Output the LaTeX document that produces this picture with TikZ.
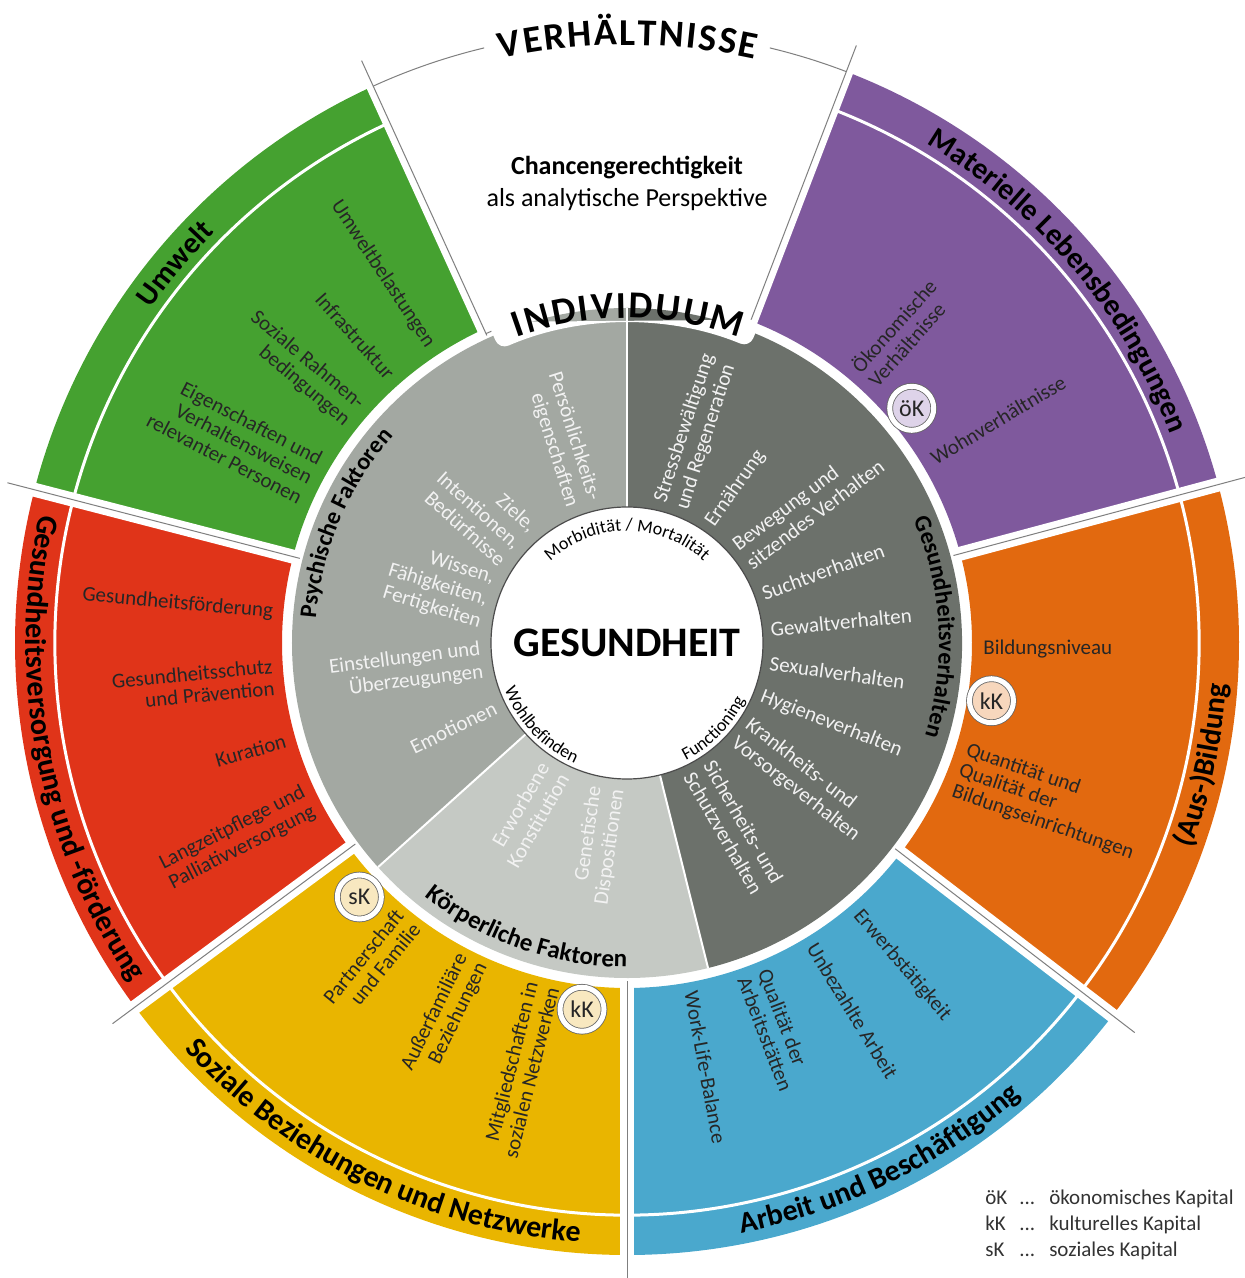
\documentclass[tikz,border=0pt]{standalone}
\usepackage{fontspec}
\setmainfont{Carlito}
\usepackage{tikz}
\usetikzlibrary{decorations.text}

\definecolor{umweltgreen}{HTML}{45A130}
\definecolor{lebenpurple}{HTML}{7F599D}
\definecolor{bildungorange}{HTML}{E2690F}
\definecolor{arbeitblue}{HTML}{4AA8CD}
\definecolor{sozialyellow}{HTML}{E9B500}
\definecolor{versorgungred}{HTML}{E03419}
\definecolor{psychgray}{HTML}{A3A8A2}
\definecolor{koerpergray}{HTML}{C5C9C4}
\definecolor{verhaltengray}{HTML}{6C716B}
\definecolor{ringtext}{HTML}{F2F2F2}
\definecolor{oekfill}{HTML}{DED3E9}
\definecolor{kkfill}{HTML}{F7D7BD}
\definecolor{skfill}{HTML}{F8E8C0}
\definecolor{dividergray}{HTML}{7F7F7F}
\newcommand{\spacedletter}[1]{\kern0.5pt#1\kern0.5pt}

\begin{document}
\begin{tikzpicture}[x=0.5pt, y=0.5pt]
    \tikzstyle{divider} = [draw, white, line width=7pt]
    \tikzstyle{divider_line} = [draw, dividergray, line width=0.5pt]
    \tikzstyle{band_line} = [draw, white, line width=1.5pt]
    \tikzstyle{ring_line} = [draw, white, line width=1pt]
    \tikzstyle{ring_item} = [text=ringtext, inner sep=0pt, font=\fontsize{10.5}{11.5}\selectfont]
    \tikzstyle{sector_item} = [text=black!85, inner sep=0pt, font=\fontsize{10.5}{11}\selectfont]
    \tikzstyle{badge} = [circle, draw=black!60, line width=0.4pt, double=white, double distance=2.5pt, minimum size=22pt, inner sep=0pt, text=black!85, font=\fontsize{12}{12}\selectfont]
    \tikzstyle{curved_label} = [decorate, decoration={text along path, text align=center}]

    \useasboundingbox (-627,-635) rectangle (617,643);

    \fill[umweltgreen] (114.5:345) arc (114.5:165.5:345) -- (165.5:612) arc (165.5:114.5:612) -- cycle;
    \fill[versorgungred] (165.5:345) arc (165.5:216.5:345) -- (216.5:612) arc (216.5:165.5:612) -- cycle;
    \fill[sozialyellow] (216.5:345) arc (216.5:270:345) -- (270:612) arc (270:216.5:612) -- cycle;
    \fill[arbeitblue] (270:345) arc (270:322.5:345) -- (322.5:612) arc (322.5:270:612) -- cycle;
    \fill[bildungorange] (322.5:345) arc (322.5:375:345) -- (375:612) arc (375:322.5:612) -- cycle;
    \fill[lebenpurple] (15:345) arc (15:69:345) -- (69:612) arc (69:15:612) -- cycle;
    \path[band_line] (69:572) arc (69:-245.5:572);

    \path[divider] (69:338) -- (69:640);
    \path[divider] (114.5:338) -- (114.5:640);
    \path[divider] (165.5:338) -- (165.5:640);
    \path[divider] (216.5:338) -- (216.5:640);
    \path[divider] (270:338) -- (270:640);
    \path[divider] (322.5:338) -- (322.5:640);
    \path[divider] (15:338) -- (15:640);
    \path[divider_line] (69:338) -- (69:640);
    \path[divider_line] (114.5:338) -- (114.5:640);
    \path[divider_line] (165.5:338) -- (165.5:640);
    \path[divider_line] (216.5:338) -- (216.5:640);
    \path[divider_line] (270:338) -- (270:640);
    \path[divider_line] (322.5:338) -- (322.5:640);
    \path[divider_line] (15:338) -- (15:640);
    \path[divider_line] (114.5:612) arc (114.5:103.5:612);
    \path[divider_line] (76.5:612) arc (76.5:69:612);
    \path[divider_line] (114.5:340) arc (114.5:111:340);
    \path[divider_line] (70.5:340) arc (70.5:69:340);

    \fill[psychgray] (0,0) -- (90:335) arc (90:222:335) -- cycle;
    \fill[koerpergray] (0,0) -- (222:335) arc (222:284:335) -- cycle;
    \fill[verhaltengray] (0,0) -- (284:335) arc (284:450:335) -- cycle;
    \path[ring_line] (0,0) -- (90:335);
    \path[ring_line] (0,0) -- (222:335);
    \path[ring_line] (0,0) -- (284:335);
    \fill[white, rounded corners=5pt] (67.5:350) -- (67.5:320) arc (67.5:113.5:320) -- (113.5:350) -- cycle;

    \node[circle, draw=black!70, line width=0.6pt, fill=white, minimum size=136pt, inner sep=0pt, font=\bfseries\fontsize{21}{24}\selectfont] (gesundheit) at (0,0) {GESUNDHEIT};
    \node[align=center, font=\fontsize{13}{16}\selectfont] (chancen) at (0,460) {\textbf{Chancengerechtigkeit}\\als analytische Perspektive};

    \path[curved_label, decoration={text={|\bfseries\fontsize{19}{22}\selectfont\spacedletter|VERHÄLTNISSE}}] (125:598) arc (125:55:598);
    \path[curved_label, decoration={text={|\bfseries\fontsize{19}{22}\selectfont\spacedletter|INDIVIDUUM}}] (125:325) arc (125:55:325);
    \path[curved_label, decoration={text={|\bfseries\fontsize{15}{18}\selectfont|Umwelt}}] (170:582) arc (170:110:582);
    \path[curved_label, decoration={text={|\bfseries\fontsize{15}{18}\selectfont|Materielle Lebensbedingungen}}] (72:582) arc (72:8:582);
    \path[curved_label, decoration={text={|\bfseries\fontsize{15}{18}\selectfont|(Aus-)Bildung}}] (-42:601) arc (-42:18:601);
    \path[curved_label, decoration={text={|\bfseries\fontsize{15}{18}\selectfont|Arbeit und Beschäftigung}}] (-96:601) arc (-96:-32:601);
    \path[curved_label, decoration={text={|\bfseries\fontsize{15}{18}\selectfont|Soziale Beziehungen und Netzwerke}}] (212:601) arc (212:276:601);
    \path[curved_label, decoration={text={|\bfseries\fontsize{15}{18}\selectfont|Gesundheitsversorgung und -förderung}}] (156:601) arc (156:226:601);
    \path[curved_label, decoration={text={|\bfseries\fontsize{12}{14}\selectfont|Psychische Faktoren}}] (187:312) arc (187:127:312);
    \path[curved_label, decoration={text={|\bfseries\fontsize{12.5}{14}\selectfont|Körperliche Faktoren}}] (220.7:324) arc (220.7:280.7:324);
    \path[curved_label, decoration={text={|\bfseries\fontsize{12}{14}\selectfont|Gesundheitsverhalten}}] (33:312) arc (33:-27:312);
    \path[curved_label, decoration={text={|\fontsize{9}{11}\selectfont|Morbidität / Mortalität}}] (160:112) arc (160:20:112);
    \path[curved_label, decoration={text={|\fontsize{9}{11}\selectfont|Wohlbefinden}}] (193.8:131) arc (193.8:253.8:131);
    \path[curved_label, decoration={text={|\fontsize{9}{11}\selectfont|Functioning}}] (285.5:131) arc (285.5:345.5:131);

    \node[ring_item, anchor=west, align=left, rotate=72] (stress) at (72:144) {Stressbewältigung\\und Regeneration};
    \node[ring_item, anchor=west, rotate=55] (ernaehrung) at (55:144) {Ernährung};
    \node[ring_item, anchor=west, align=left, rotate=37] (bewegung) at (37.5:144) {Bewegung und\\sitzendes Verhalten};
    \node[ring_item, anchor=west, rotate=20] (sucht) at (20:144) {Suchtverhalten};
    \node[ring_item, anchor=west, rotate=5.5] (gewalt) at (5.5:144) {Gewaltverhalten};
    \node[ring_item, anchor=west, rotate=-8] (sexual) at (-8:144) {Sexualverhalten};
    \node[ring_item, anchor=west, rotate=-21.5] (hygiene) at (-21.5:144) {Hygieneverhalten};
    \node[ring_item, anchor=west, align=left, rotate=-38] (krankheit) at (-38:144) {Krankheits- und\\Vorsorgeverhalten};
    \node[ring_item, anchor=west, align=left, rotate=-60] (sicherheit) at (-60:144) {Sicherheits- und\\Schutzverhalten};
    \node[ring_item, anchor=east, align=right, rotate=-72.5] (persoenlichkeit) at (107.5:146) {Persönlichkeits-\\eigenschaften};
    \node[ring_item, anchor=east, align=right, rotate=-42] (ziele) at (138:146) {Ziele,\\Intentionen,\\Bedürfnisse};
    \node[ring_item, anchor=east, align=right, rotate=-17] (wissen) at (163:146) {Wissen,\\Fähigkeiten,\\Fertigkeiten};
    \node[ring_item, anchor=east, align=right, rotate=7] (einstellungen) at (187:146) {Einstellungen und\\Überzeugungen};
    \node[ring_item, anchor=east, rotate=26] (emotionen) at (206:146) {Emotionen};
    \node[ring_item, anchor=east, align=right, rotate=60] (erworben) at (240:146) {Erworbene\\Konstitution};
    \node[ring_item, anchor=east, align=right, rotate=82] (genetisch) at (262:146) {Genetische\\Dispositionen};

    \node[sector_item, anchor=east, rotate=-56.5] (umweltbelastung) at (123.5:356) {Umweltbelastungen};
    \node[sector_item, anchor=east, rotate=-48.5] (infrastruktur) at (131.5:356) {Infrastruktur};
    \node[sector_item, anchor=east, align=right, rotate=-40] (rahmen) at (140:356) {Soziale Rahmen-\\bedingungen};
    \node[sector_item, anchor=east, align=right, rotate=-27.5] (eigenschaften) at (152.5:356) {Eigenschaften und\\Verhaltensweisen\\relevanter Personen};
    \node[sector_item, anchor=east, rotate=-5] (foerderung) at (175:355) {Gesundheitsförderung};
    \node[sector_item, anchor=east, align=right, rotate=5.5] (schutz) at (185.5:355) {Gesundheitsschutz\\und Prävention};
    \node[sector_item, anchor=east, rotate=16] (kuration) at (196:355) {Kuration};
    \node[sector_item, anchor=east, align=right, rotate=27] (langzeit) at (206.5:355) {Langzeitpflege und\\Palliativversorgung};
    \node[sector_item, anchor=east, align=right, rotate=51] (partner) at (231.5:352) {Partnerschaft\\und Familie};
    \node[sector_item, anchor=east, align=right, rotate=64] (ausserfamilie) at (244:352) {Außerfamiliäre\\Beziehungen};
    \node[sector_item, anchor=east, align=right, rotate=76] (mitglied) at (256:352) {Mitgliedschaften in\\sozialen Netzwerken};
    \node[sector_item, anchor=west, rotate=-49.5] (erwerb) at (-49.5:354) {Erwerbstätigkeit};
    \node[sector_item, anchor=west, rotate=-58.5] (unbezahlt) at (-58.5:354) {Unbezahlte Arbeit};
    \node[sector_item, anchor=west, align=left, rotate=-69] (arbeitsqualitaet) at (-69:354) {Qualität der\\Arbeitsstätten};
    \node[sector_item, anchor=west, rotate=-79.5] (worklife) at (-79.5:354) {Work-Life-Balance};
    \node[sector_item, anchor=west, align=left, rotate=48.5] (oekonomisch) at (48.5:356) {Ökonomische\\Verhältnisse};
    \node[sector_item, anchor=west, rotate=31] (wohnen) at (31:356) {Wohnverhältnisse};
    \node[sector_item, anchor=west] (bildungsniveau) at (-1:356) {Bildungsniveau};
    \node[sector_item, anchor=west, align=left, rotate=-19] (bildungsqualitaet) at (-21:356) {Quantität und\\Qualität der\\Bildungseinrichtungen};

    \node[badge, fill=oekfill] (oek) at (39.5:369) {öK};
    \node[badge, fill=kkfill] (kk_bildung) at (-9:369) {kK};
    \node[badge, fill=skfill] (sk) at (223.5:369) {sK};
    \node[badge, fill=skfill] (kk_sozial) at (263:369) {kK};

    \node[anchor=north west, inner sep=0pt, text=black!80, font=\fontsize{10.5}{13}\selectfont] (legend) at (358,-543) {\begin{tabular}{@{}l@{\hspace{6pt}}l@{\hspace{7pt}}l@{}}öK & ... & ökonomisches Kapital\\kK & ... & kulturelles Kapital\\sK & ... & soziales Kapital\end{tabular}};
\end{tikzpicture}
\end{document}
